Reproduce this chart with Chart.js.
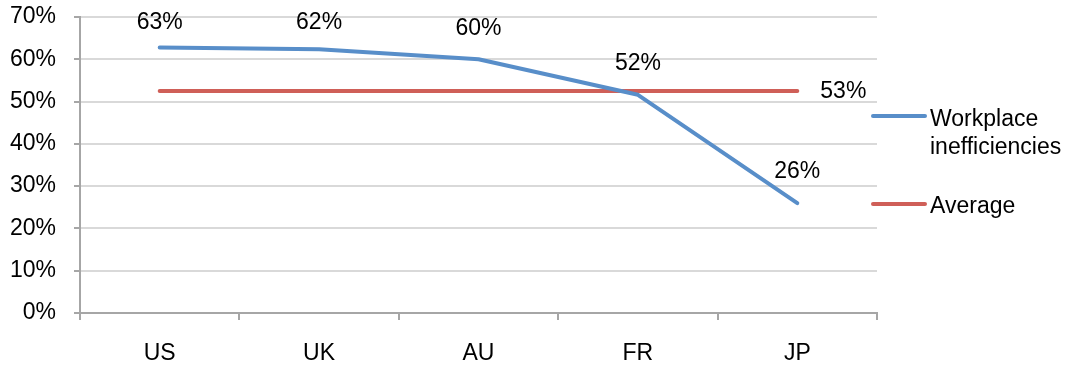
<!DOCTYPE html>
<html><head><meta charset="utf-8">
<script src="https://cdn.jsdelivr.net/npm/chart.js@4.4.0/dist/chart.umd.min.js"></script>
<style>html,body{margin:0;padding:0;background:#fff}#wrap{width:1073px;height:365px;position:relative}</style>
</head><body><div id="wrap"><canvas id="c"></canvas></div>
<script>
const categories = ['US','UK','AU','FR','JP'];
const workplaceInefficiencies = [62.8, 62.4, 60.0, 51.6, 26.0];
const averageValues = [52.5, 52.5, 52.5, 52.5, 52.5];
const workplaceLabels = ['63%','62%','60%','52%','26%'];
const averageLabel = '53%';
const yTicks = [0,10,20,30,40,50,60,70];
const seriesNames = [['Workplace','inefficiencies'], ['Average']];

const BLUE = 'rgb(88,142,201)';
const RED = 'rgb(207,95,88)';
const FONT = '"Liberation Sans", Arial, sans-serif';

const labelPlugin = {
  id: 'labels',
  afterDatasetsDraw(chart) {
    const ctx = chart.ctx;
    ctx.save();
    ctx.font = '23px ' + FONT;
    ctx.fillStyle = '#000';
    ctx.textAlign = 'center';
    ctx.textBaseline = 'middle';
    const m0 = chart.getDatasetMeta(0);
    m0.data.forEach((p, i) => {
      ctx.fillText(workplaceLabels[i], p.x, Math.max(23, p.y - 31));
    });
    const m1 = chart.getDatasetMeta(1);
    const last = m1.data[m1.data.length - 1];
    ctx.textAlign = 'left';
    ctx.fillText(averageLabel, last.x + 23, last.y + 1);
    // legend
    const lx = chart.chartArea.right - 4;
    ctx.lineCap = 'round';
    ctx.lineWidth = 4;
    ctx.strokeStyle = BLUE;
    ctx.beginPath(); ctx.moveTo(lx, 116); ctx.lineTo(lx + 52, 116); ctx.stroke();
    ctx.fillText(seriesNames[0][0], lx + 57, 120);
    ctx.fillText(seriesNames[0][1], lx + 57, 148);
    ctx.strokeStyle = RED;
    ctx.beginPath(); ctx.moveTo(lx, 204); ctx.lineTo(lx + 52, 204); ctx.stroke();
    ctx.fillText(seriesNames[1][0], lx + 57, 207);
    ctx.restore();
  }
};

new Chart(document.getElementById('c'), {
  type: 'line',
  data: {
    labels: categories,
    datasets: [
      { label: 'Workplace inefficiencies', data: workplaceInefficiencies, borderColor: BLUE, borderWidth: 4, pointRadius: 0, tension: 0, borderCapStyle: 'round', borderJoinStyle: 'round' },
      { label: 'Average', data: averageValues, borderColor: RED, borderWidth: 4, pointRadius: 0, tension: 0, borderCapStyle: 'round' }
    ]
  },
  options: {
    responsive: true,
    maintainAspectRatio: false,
    animation: false,
    layout: { padding: { top: 17, right: 196, left: 0, bottom: 0 } },
    plugins: { legend: { display: false }, tooltip: { enabled: false }, title: { display: false } },
    scales: {
      x: {
        offset: true,
        grid: { offset: true, drawOnChartArea: false, tickLength: 7, color: '#a6a6a6', lineWidth: 2 },
        border: { color: '#a6a6a6', width: 2 },
        ticks: { font: { family: FONT, size: 23 }, color: '#000', padding: 20 },
        afterFit(s) { s.height = 52; s.paddingLeft = 0; s.paddingRight = 0; }
      },
      y: {
        min: 0, max: 70,
        afterBuildTicks(s) { s.ticks = yTicks.map(v => ({ value: v })); },
        grid: { color: '#d9d9d9', lineWidth: 2, tickLength: 6, tickColor: '#a6a6a6' },
        border: { color: '#a6a6a6', width: 2 },
        ticks: { font: { family: FONT, size: 23 }, color: '#000', padding: 18, callback: v => v + '%' },
        afterFit(s) { s.width = 80; s.paddingTop = 0; s.paddingBottom = 0; }
      }
    }
  },
  plugins: [labelPlugin]
});
</script></body></html>
